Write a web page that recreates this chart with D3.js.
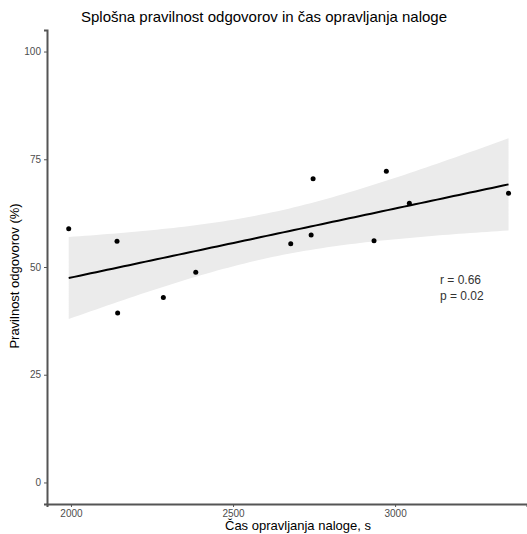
<!DOCTYPE html>
<html>
<head>
<meta charset="utf-8">
<title>Splošna pravilnost odgovorov</title>
<script src="https://d3js.org/d3.v7.min.js"></script>
<style>
  body { margin: 0; background: #fff; }
  svg text { font-family: "Liberation Sans", Arial, sans-serif; }
</style>
</head>
<body>
<div id="chart"></div>
<script>
// time to finish the task (s) and overall correctness (%)
var casValues = [1993, 2142, 2144, 2285, 2385, 2678, 2741, 2747, 2935, 2973, 3044, 3350];
var pravilnostValues = [58.9, 56.0, 39.3, 42.9, 48.8, 55.4, 57.4, 70.5, 56.1, 72.2, 64.8, 67.1];
var xTicks = [2000, 2500, 3000];
var yTicks = [0, 25, 50, 75, 100];
var statLabels = ["r = 0.66", "p = 0.02"];

var width = 527, height = 534;
var tCrit = 2.228; // t(0.975, df = 10)

var svg = d3.select('#chart').append('svg')
    .attr('width', width)
    .attr('height', height);

var x = d3.scaleLinear().domain([1926, 3407]).range([47, 527]);
var y = d3.scaleLinear().domain([-5, 105]).range([504, 30]);

// linear model
var n = casValues.length;
var mx = d3.mean(casValues), my = d3.mean(pravilnostValues);
var sxx = 0, sxy = 0, syy = 0;
casValues.forEach(function(xi, i) {
  var dx = xi - mx, dy = pravilnostValues[i] - my;
  sxx += dx * dx; sxy += dx * dy; syy += dy * dy;
});
var slope = sxy / sxx;
var intercept = my - slope * mx;
var sse = syy - slope * sxy;
var s = Math.sqrt(sse / (n - 2));

var xs = d3.range(0, 81).map(function(i) {
  var lo = d3.min(casValues), hi = d3.max(casValues);
  return lo + (hi - lo) * i / 80;
});
var band = xs.map(function(xv) {
  var fit = intercept + slope * xv;
  var se = s * Math.sqrt(1 / n + (xv - mx) * (xv - mx) / sxx);
  return { x: xv, fit: fit, lo: fit - tCrit * se, hi: fit + tCrit * se };
});

svg.append('path')
    .datum(band)
    .attr('fill', '#ebebeb')
    .attr('d', d3.area()
      .x(function(d) { return x(d.x); })
      .y0(function(d) { return y(d.lo); })
      .y1(function(d) { return y(d.hi); }));

svg.append('path')
    .datum(band)
    .attr('fill', 'none')
    .attr('stroke', '#000')
    .attr('stroke-width', 2)
    .attr('d', d3.line()
      .x(function(d) { return x(d.x); })
      .y(function(d) { return y(d.fit); }));

svg.append('g').selectAll('circle')
    .data(casValues)
  .enter().append('circle')
    .attr('cx', function(d) { return x(d); })
    .attr('cy', function(d, i) { return y(pravilnostValues[i]); })
    .attr('r', 2.5)
    .attr('fill', '#000');

// axes
var xAxis = svg.append('g')
    .attr('transform', 'translate(0,504)')
    .call(d3.axisBottom(x).tickValues(xTicks).tickSize(3).tickPadding(3).tickFormat(d3.format('d')));
var yAxis = svg.append('g')
    .attr('transform', 'translate(47,0)')
    .call(d3.axisLeft(y).tickValues(yTicks).tickSize(3).tickPadding(3));

[xAxis, yAxis].forEach(function(ax) {
  ax.select('.domain').attr('stroke', '#555').attr('stroke-width', 2);
  ax.selectAll('.tick line').attr('stroke', '#555');
  ax.selectAll('.tick text').attr('fill', '#4d4d4d').style('font-size', '10px');
});

svg.append('text')
    .attr('x', 264)
    .attr('y', 22)
    .attr('text-anchor', 'middle')
    .style('font-size', '15px')
    .attr('fill', '#000')
    .text('Splošna pravilnost odgovorov in čas opravljanja naloge');

svg.append('text')
    .attr('x', 298)
    .attr('y', 530)
    .attr('text-anchor', 'middle')
    .style('font-size', '13px')
    .attr('fill', '#000')
    .text('Čas opravljanja naloge, s');

svg.append('text')
    .attr('transform', 'translate(19,276) rotate(-90)')
    .attr('text-anchor', 'middle')
    .style('font-size', '13px')
    .attr('fill', '#000')
    .text('Pravilnost odgovorov (%)');

svg.append('g').selectAll('text')
    .data(statLabels)
  .enter().append('text')
    .attr('x', 440)
    .attr('y', function(d, i) { return 284 + i * 16; })
    .style('font-size', '12px')
    .attr('fill', '#333')
    .text(function(d) { return d; });
</script>
</body>
</html>
